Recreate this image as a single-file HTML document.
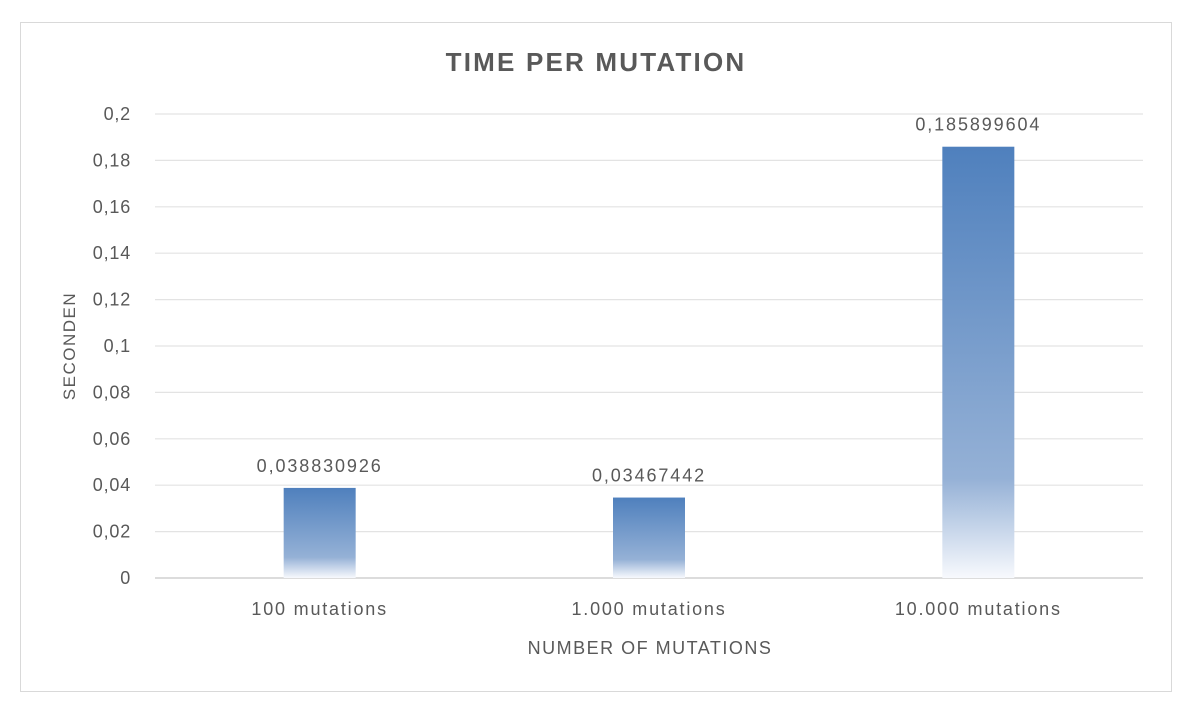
<!DOCTYPE html>
<html><head><meta charset="utf-8"><style>
body{margin:0;background:#fff;font-family:"Liberation Sans",sans-serif}
svg text{font-family:"Liberation Sans",sans-serif;fill:#595959}
</style></head><body>
<svg width="1200" height="707" viewBox="0 0 1200 707">
<defs><linearGradient id="g" x1="0" y1="0" x2="0" y2="1">
<stop offset="0" stop-color="#4f80bd"/><stop offset="0.77" stop-color="#95b1d6"/><stop offset="1" stop-color="#f7f9fd"/>
</linearGradient></defs>
<rect x="20.5" y="22.5" width="1151" height="669" fill="#fff" stroke="#d9d9d9"/>
<text x="596" y="71" text-anchor="middle" font-size="26" font-weight="bold" letter-spacing="2.2">TIME PER MUTATION</text>
<g id="grid"></g><g id="bars"></g>
<text transform="translate(75,346) rotate(-90)" text-anchor="middle" font-size="17" letter-spacing="1.5">SECONDEN</text>
<text x="650" y="654" text-anchor="middle" font-size="18" letter-spacing="1.5">NUMBER OF MUTATIONS</text>
</svg>
<script>
const categories=["100 mutations","1.000 mutations","10.000 mutations"];
const values=[0.038830926,0.03467442,0.185899604];
const labels=["0,038830926","0,03467442","0,185899604"];
const ticks=[0,0.02,0.04,0.06,0.08,0.1,0.12,0.14,0.16,0.18,0.2];
const tickLabels=["0","0,02","0,04","0,06","0,08","0,1","0,12","0,14","0,16","0,18","0,2"];
const NS="http://www.w3.org/2000/svg";
const x0=155,x1=1143,yb=578,yt=114;
const y=v=>yb-(v/0.2)*(yb-yt);
const band=(x1-x0)/categories.length;
const cx=i=>x0+band*(i+0.5);
function mk(t,a,p){const e=document.createElementNS(NS,t);for(const k in a)e.setAttribute(k,a[k]);p.appendChild(e);return e;}
const grid=document.getElementById('grid'),bars=document.getElementById('bars');
ticks.forEach((t,i)=>{
 const l=mk('line',{x1:x0,x2:x1,y1:y(t),y2:y(t),stroke:i==0?'#d0d0d0':'#e3e3e3','stroke-width':i==0?1.5:1.2},grid);
 
 
 const tx=mk('text',{x:131,y:y(t)+6,'text-anchor':'end','font-size':18,'letter-spacing':0.8},grid);tx.textContent=tickLabels[i];
 
 
});
categories.forEach((c,i)=>{
 const r=mk('rect',{x:cx(i)-36,y:y(values[i]),width:72,height:yb-y(values[i]),fill:'url(#g)'},bars);
 
 
 const v=mk('text',{x:cx(i),y:y(values[i])-16,'text-anchor':'middle','font-size':18,'letter-spacing':1.9},bars);v.textContent=labels[i];
 
 
 const t=mk('text',{x:cx(i),y:615,'text-anchor':'middle','font-size':18,'letter-spacing':1.8},bars);t.textContent=c;
 
 
});
</script>
</body></html>
